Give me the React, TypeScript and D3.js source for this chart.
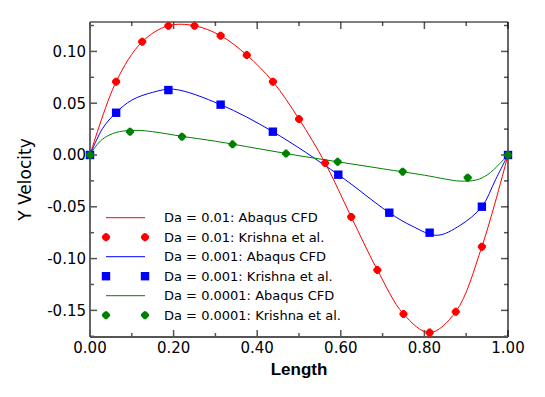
import React, { useEffect, useRef } from 'react';
import * as d3 from 'd3';

// Krishna et al. markers
const redX = [0, 0.0625, 0.125, 0.1875, 0.25, 0.3125, 0.375, 0.4375, 0.5, 0.5625, 0.625, 0.6875, 0.75, 0.8125, 0.875, 0.9375, 1.0];
const redY = [0, 0.0708, 0.1094, 0.1248, 0.1248, 0.1152, 0.0965, 0.0708, 0.0347, -0.0077, -0.0598, -0.111, -0.1535, -0.1715, -0.1513, -0.0885, 0];

const blueX = [0, 0.0625, 0.1875, 0.3125, 0.4375, 0.594, 0.716, 0.8125, 0.9375, 1.0];
const blueY = [0, 0.0408, 0.0627, 0.0486, 0.0225, -0.019, -0.0557, -0.075, -0.0499, 0];

const greenX = [0, 0.0957, 0.22, 0.341, 0.469, 0.5925, 0.748, 0.9036, 1.0];
const greenY = [0, 0.0225, 0.0177, 0.0103, 0.0014, -0.0066, -0.0161, -0.0219, 0];

// Abaqus CFD curves
const blueLineX = [0, 0.03, 0.0625, 0.1, 0.15, 0.2, 0.3125, 0.4375, 0.594, 0.716, 0.77, 0.83, 0.885, 0.9375, 0.97, 1.0];
const blueLineY = [0, 0.0255, 0.041, 0.053, 0.0605, 0.0635, 0.0486, 0.0225, -0.019, -0.0557, -0.0685, -0.0775, -0.068, -0.0499, -0.024, 0];

const greenLineX = [0, 0.02, 0.04, 0.07, 0.11, 0.15, 0.22, 0.3, 0.4, 0.5, 0.6, 0.7, 0.8, 0.85, 0.885, 0.925, 0.95, 0.965, 0.981, 1.0];
const greenLineY = [0, 0.0115, 0.018, 0.0225, 0.0238, 0.0225, 0.018, 0.0133, 0.0063, -0.0007, -0.007, -0.0133, -0.0195, -0.0232, -0.0252, -0.024, -0.0193, -0.0145, -0.008, 0];

const xTicks = [0, 0.2, 0.4, 0.6, 0.8, 1.0];
const yTicks = [-0.15, -0.1, -0.05, 0, 0.05, 0.1];

const legendLabels = [
  'Da = 0.01: Abaqus CFD',
  'Da = 0.01: Krishna et al.',
  'Da = 0.001: Abaqus CFD',
  'Da = 0.001: Krishna et al.',
  'Da = 0.0001: Abaqus CFD',
  'Da = 0.0001: Krishna et al.'
];

const RED = '#ff0000';
const BLUE = '#0000ff';
const GREEN = '#008000';

const zip = (xs: number[], ys: number[]) => xs.map((x, i) => [x, ys[i]] as [number, number]);

const App = () => {
  const ref = useRef<SVGSVGElement>(null);

  useEffect(() => {
    if (!ref.current) return;
    const svg = d3.select(ref.current);
    svg.selectAll('*').remove();

    const left = 90, right = 508, top = 22, bottom = 337;
    const x = d3.scaleLinear().domain([0, 1]).range([left, right]);
    const y = d3.scaleLinear().domain([-0.1757, 0.1284]).range([bottom, top]);

    const minorX = d3.range(0, 1.0001, 0.1);
    const minorY = d3.range(-0.175, 0.126, 0.025);
    const isMajorX = (v: number) => Math.abs(v * 5 - Math.round(v * 5)) < 1e-6;
    const isMajorY = (v: number) => Math.abs(v * 20 - Math.round(v * 20)) < 1e-6;

    const tickColor = '#555';
    const g = svg.append('g');

    // ticks (inside, all four sides)
    minorX.forEach(v => {
      const len = isMajorX(v) ? 7 : 4;
      g.append('line').attr('x1', x(v)).attr('x2', x(v)).attr('y1', bottom).attr('y2', bottom - len)
        .attr('stroke', tickColor).attr('stroke-width', 1.5);
      g.append('line').attr('x1', x(v)).attr('x2', x(v)).attr('y1', top).attr('y2', top + len)
        .attr('stroke', tickColor).attr('stroke-width', 1.5);
    });
    minorY.forEach(v => {
      const len = isMajorY(v) ? 7 : 4;
      g.append('line').attr('x1', left).attr('x2', left + len).attr('y1', y(v)).attr('y2', y(v))
        .attr('stroke', tickColor).attr('stroke-width', 1.5);
      g.append('line').attr('x1', right).attr('x2', right - len).attr('y1', y(v)).attr('y2', y(v))
        .attr('stroke', tickColor).attr('stroke-width', 1.5);
    });

    // frame
    g.append('line').attr('x1', left).attr('x2', right).attr('y1', top).attr('y2', top).attr('stroke', '#000').attr('stroke-width', 1.2);
    g.append('line').attr('x1', right).attr('x2', right).attr('y1', top).attr('y2', bottom).attr('stroke', '#000').attr('stroke-width', 1.2);
    g.append('line').attr('x1', left).attr('x2', left).attr('y1', top).attr('y2', bottom).attr('stroke', '#555').attr('stroke-width', 1.8);
    g.append('line').attr('x1', left).attr('x2', right).attr('y1', bottom).attr('y2', bottom).attr('stroke', '#555').attr('stroke-width', 1.8);

    // tick labels
    const tickFont = 'DejaVu Sans, Verdana, sans-serif';
    g.selectAll('text.xt').data(xTicks).join('text')
      .attr('class', 'xt')
      .attr('x', d => x(d)).attr('y', 353)
      .attr('text-anchor', 'middle')
      .attr('font-family', tickFont).attr('font-size', 15).attr('fill', '#000')
      .text(d => d.toFixed(2));
    g.selectAll('text.yt').data(yTicks).join('text')
      .attr('class', 'yt')
      .attr('x', 86).attr('y', d => y(d)).attr('dy', '0.36em')
      .attr('text-anchor', 'end')
      .attr('font-family', tickFont).attr('font-size', 15).attr('fill', '#000')
      .text(d => d.toFixed(2));

    // axis titles
    g.append('text').attr('x', (left + right) / 2).attr('y', 375)
      .attr('text-anchor', 'middle')
      .attr('font-family', 'Liberation Sans, Arial, sans-serif').attr('font-weight', 'bold').attr('font-size', 17)
      .text('Length');
    g.append('text')
      .attr('transform', `translate(31,${(top + bottom) / 2}) rotate(-90)`)
      .attr('text-anchor', 'middle')
      .attr('font-family', tickFont).attr('font-size', 17)
      .text('Y Velocity');

    // marker drawers
    const cross = d3.symbol().type(d3.symbolCross).size(36);
    const drawDot = (sel: any, cx: number, cy: number, color: string, r: number) => {
      sel.append('circle').attr('cx', cx).attr('cy', cy).attr('r', r).attr('fill', color);
      sel.append('path').attr('d', cross()).attr('transform', `translate(${cx},${cy})`).attr('fill', color);
    };
    const drawSquare = (sel: any, cx: number, cy: number, color: string) => {
      sel.append('rect').attr('x', cx - 4.2).attr('y', cy - 4.2).attr('width', 8.4).attr('height', 8.4).attr('fill', color);
    };

    const line = d3.line<[number, number]>()
      .x(d => x(d[0])).y(d => y(d[1]))
      .curve(d3.curveCatmullRom.alpha(0.5));

    const plot = g.append('g');
    plot.append('path').datum(zip(redX, redY)).attr('d', line).attr('fill', 'none').attr('stroke', RED).attr('stroke-width', 1);
    plot.append('path').datum(zip(blueLineX, blueLineY)).attr('d', line).attr('fill', 'none').attr('stroke', BLUE).attr('stroke-width', 1);
    plot.append('path').datum(zip(greenLineX, greenLineY)).attr('d', line).attr('fill', 'none').attr('stroke', GREEN).attr('stroke-width', 1);

    zip(redX, redY).forEach(d => drawDot(plot, x(d[0]), y(d[1]), RED, 3.6));
    zip(blueX, blueY).forEach(d => drawSquare(plot, x(d[0]), y(d[1]), BLUE));
    zip(greenX, greenY).forEach(d => drawDot(plot, x(d[0]), y(d[1]), GREEN, 3.4));

    // legend
    const lg = g.append('g');
    const colors = [RED, RED, BLUE, BLUE, GREEN, GREEN];
    legendLabels.forEach((label, i) => {
      const ly = 217.7 + i * 19.5;
      const c = colors[i];
      if (i % 2 === 0) {
        lg.append('line').attr('x1', 106).attr('x2', 145).attr('y1', ly).attr('y2', ly).attr('stroke', c).attr('stroke-width', 1);
      } else if (c === BLUE) {
        drawSquare(lg, 106, ly, c);
        drawSquare(lg, 145, ly, c);
      } else {
        drawDot(lg, 106, ly, c, c === RED ? 3.6 : 3.4);
        drawDot(lg, 145, ly, c, c === RED ? 3.6 : 3.4);
      }
      lg.append('text').attr('x', 164).attr('y', ly).attr('dy', '0.36em')
        .attr('font-family', tickFont).attr('font-size', 13).attr('fill', '#000')
        .text(label);
    });
  }, []);

  return (
    <svg ref={ref} width={545} height={397}
      style={{ position: 'absolute', left: 0, top: 0, background: '#fff' }} />
  );
};

export default App;
